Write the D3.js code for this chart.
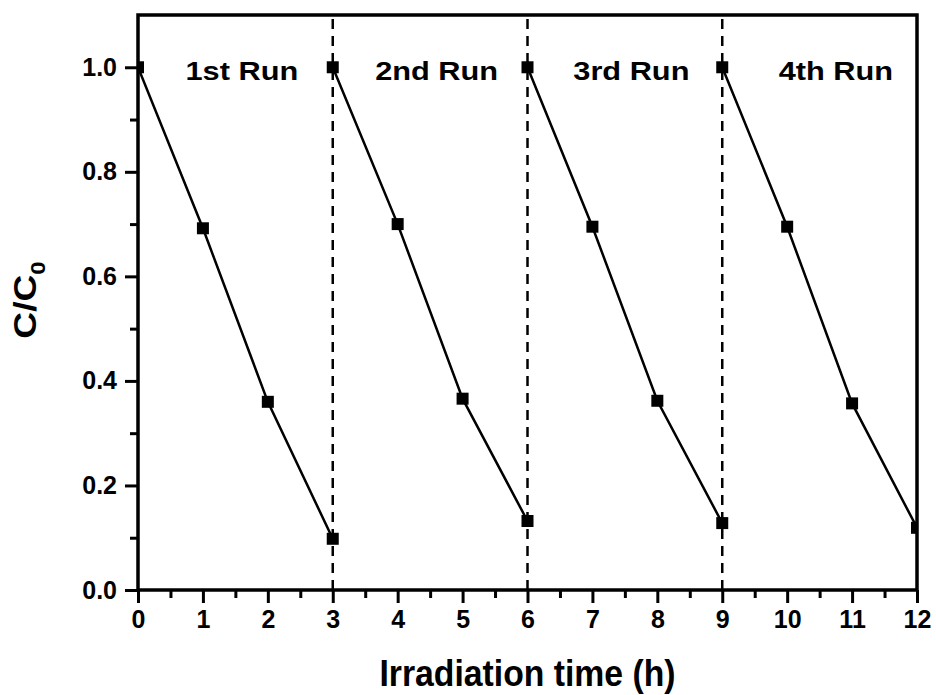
<!DOCTYPE html>
<html>
<head>
<meta charset="utf-8">
<script src="https://cdn.jsdelivr.net/npm/d3@7"></script>
<style>
  html, body { margin: 0; padding: 0; background: #fff; }
  text { font-family: "Liberation Sans", Arial, sans-serif; font-weight: bold; fill: #000; }
</style>
</head>
<body>
<svg id="chart" width="936" height="695"></svg>
<script>
// Irradiation time (h) for each cycle
const run1Time = [0, 1, 2, 3];
const run2Time = [3, 4, 5, 6];
const run3Time = [6, 7, 8, 9];
const run4Time = [9, 10, 11, 12];
// Normalised concentration C/C0
const run1Values = [1.0, 0.692, 0.360, 0.098];
const run2Values = [1.0, 0.700, 0.366, 0.132];
const run3Values = [1.0, 0.695, 0.362, 0.128];
const run4Values = [1.0, 0.695, 0.357, 0.119];
const runLabels = ["1st Run", "2nd Run", "3rd Run", "4th Run"];
// Time at which each run label is centred
const runLabelTime = [1.6, 4.6, 7.6, 10.75];
// Cycle boundaries
const runBoundaries = [3, 6, 9];
const xTicks = [0, 1, 2, 3, 4, 5, 6, 7, 8, 9, 10, 11, 12];
const yTicks = [0.0, 0.2, 0.4, 0.6, 0.8, 1.0];

const runs = [
  { t: run1Time, v: run1Values },
  { t: run2Time, v: run2Values },
  { t: run3Time, v: run3Values },
  { t: run4Time, v: run4Values }
];

const svg = d3.select("#chart");
const margin = { left: 138, right: 19, top: 15, bottom: 105 };
const W = 936, H = 695;
const x = d3.scaleLinear().domain([0, 12]).range([margin.left, W - margin.right]);
const y = d3.scaleLinear().domain([0, 1.1]).range([H - margin.bottom, margin.top]);

svg.append("defs").append("clipPath").attr("id", "plotClip")
  .append("rect")
  .attr("x", x(0)).attr("y", y(1.1))
  .attr("width", x(12) - x(0)).attr("height", y(0) - y(1.1));

// Minor ticks
const xMinor = d3.range(0.5, 12, 1);
svg.append("g")
  .attr("transform", `translate(0,${y(0)})`)
  .call(d3.axisBottom(x).tickValues(xMinor).tickSize(8).tickFormat(""))
  .call(g => g.select(".domain").remove())
  .call(g => g.selectAll("line").attr("stroke-width", 3));
const yMinor = d3.range(0.1, 1.1, 0.2);
svg.append("g")
  .attr("transform", `translate(${x(0)},0)`)
  .call(d3.axisLeft(y).tickValues(yMinor).tickSize(8).tickFormat(""))
  .call(g => g.select(".domain").remove())
  .call(g => g.selectAll("line").attr("stroke-width", 3));

// Major axes
const xAxis = svg.append("g")
  .attr("transform", `translate(0,${y(0)})`)
  .call(d3.axisBottom(x).tickValues(xTicks).tickSize(13).tickPadding(7).tickFormat(d3.format("d")));
xAxis.select(".domain").remove();
xAxis.selectAll("line").attr("stroke-width", 3);
xAxis.selectAll("text").attr("font-size", 25).attr("font-family", "Liberation Sans, Arial, sans-serif").attr("font-weight", "bold");

const yAxis = svg.append("g")
  .attr("transform", `translate(${x(0)},0)`)
  .call(d3.axisLeft(y).tickValues(yTicks).tickSize(13).tickPadding(8).tickFormat(d3.format(".1f")));
yAxis.select(".domain").remove();
yAxis.selectAll("line").attr("stroke-width", 3);
yAxis.selectAll("text").attr("font-size", 25).attr("font-family", "Liberation Sans, Arial, sans-serif").attr("font-weight", "bold");

// Run boundaries
svg.append("g").selectAll("line").data(runBoundaries).join("line")
  .attr("x1", d => x(d)).attr("x2", d => x(d))
  .attr("y1", y(0)).attr("y2", y(1.1))
  .attr("stroke", "#000").attr("stroke-width", 2.5)
  .attr("stroke-dasharray", "10,7");

// Data lines and markers
const line = d3.line().x(d => x(d[0])).y(d => y(d[1]));
const plot = svg.append("g").attr("clip-path", "url(#plotClip)");
runs.forEach(r => {
  const pts = r.t.map((t, i) => [t, r.v[i]]);
  plot.append("path").datum(pts)
    .attr("d", line).attr("fill", "none")
    .attr("stroke", "#000").attr("stroke-width", 2.5);
  plot.selectAll(null).data(pts).join("rect")
    .attr("x", d => x(d[0]) - 6).attr("y", d => y(d[1]) - 6)
    .attr("width", 12).attr("height", 12).attr("fill", "#000");
});

// Frame
svg.append("rect")
  .attr("x", x(0)).attr("y", y(1.1))
  .attr("width", x(12) - x(0)).attr("height", y(0) - y(1.1))
  .attr("fill", "none").attr("stroke", "#000").attr("stroke-width", 3.5);

// Run labels (wide bold lettering)
svg.append("g").selectAll("text").data(runLabels).join("text")
  .attr("transform", (d, i) => `translate(${x(runLabelTime[i])},80) scale(1.16,1)`)
  .attr("text-anchor", "middle")
  .attr("font-size", 26.5)
  .text(d => d);

// Axis titles
svg.append("text")
  .attr("transform", `translate(${(x(0) + x(12)) / 2},686) scale(0.9,1)`)
  .attr("text-anchor", "middle").attr("font-size", 37.5)
  .text("Irradiation time (h)");

const yTitle = svg.append("text")
  .attr("transform", `translate(36,300) rotate(-90) scale(1.2,1)`)
  .attr("text-anchor", "middle").attr("font-size", 31);
yTitle.append("tspan").text("C/C");
yTitle.append("tspan").attr("font-size", 20).attr("dy", 9).text("0");
</script>
</body>
</html>
